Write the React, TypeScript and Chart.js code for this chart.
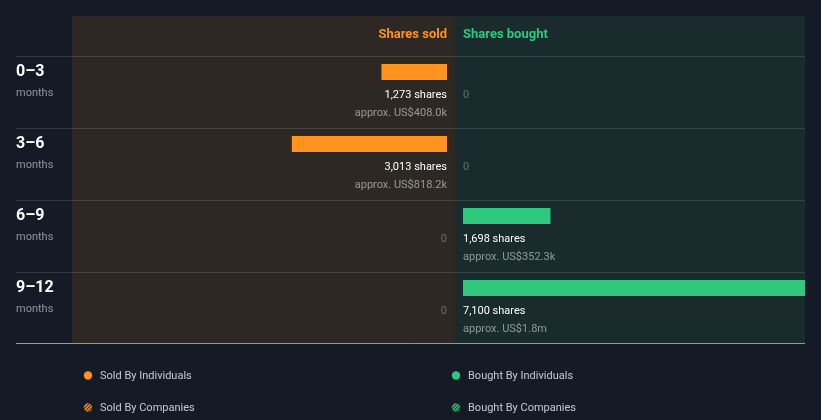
import React, { useEffect, useRef } from "react";
import { Chart, registerables } from "chart.js";

Chart.register(...registerables);

const periods = ["0–3", "3–6", "6–9", "9–12"];
const periodUnit = "months";
const soldShares = [1273, 3013, 0, 0];
const boughtShares = [0, 0, 1698, 7100];
const soldValue = ["US$408.0k", "US$818.2k", "", ""];
const boughtValue = ["", "", "US$352.3k", "US$1.8m"];
const headers = ["Shares sold", "Shares bought"];
const legendLabels = ["Sold By Individuals", "Sold By Companies", "Bought By Individuals", "Bought By Companies"];

const ORANGE = "#ff931d";
const GREEN = "#2ec97f";
const BG = "#151b26";
const SOLD_BG = "#2d2823";
const BOUGHT_BG = "#192b2d";
const FONT = "Roboto, 'Open Sans', sans-serif";

// px per share (shared by both sides)
const PX_PER_SHARE = 0.0515;
const SOLD_LEFT = 72, SOLD_RIGHT = 447, BOUGHT_LEFT = 463, BOUGHT_RIGHT = 805;
const ROWS_TOP = 36, ROWS_BOTTOM = 324;

function fmt(n: number) {
  return n.toLocaleString("en-US");
}

const layoutPlugin = {
  id: "customLayout",
  afterLayout(chart: any) {
    const sx = chart.scales.xSold, bx = chart.scales.xBought, y = chart.scales.y;
    sx.left = SOLD_LEFT; sx.right = SOLD_RIGHT; sx.width = SOLD_RIGHT - SOLD_LEFT; sx.configure();
    bx.left = BOUGHT_LEFT; bx.right = BOUGHT_RIGHT; bx.width = BOUGHT_RIGHT - BOUGHT_LEFT; bx.configure();
    y.top = ROWS_TOP; y.bottom = ROWS_BOTTOM; y.height = ROWS_BOTTOM - ROWS_TOP; y.configure();
  },
  beforeDatasetsDraw(chart: any) {
    const ctx = chart.ctx;
    const y = chart.scales.y;
    const band = (y.getPixelForValue(1) - y.getPixelForValue(0));
    const rowTop = (i: number) => y.getPixelForValue(i) - 16;
    const lastBottom = rowTop(periods.length - 1) + band - 1;
    const panelTop = rowTop(0) - 40;
    ctx.save();
    // panels
    ctx.fillStyle = SOLD_BG;
    ctx.fillRect(72, panelTop, 383, lastBottom - panelTop);
    ctx.fillStyle = BOUGHT_BG;
    ctx.fillRect(455, panelTop, 350, lastBottom - panelTop);
    // row separators
    ctx.strokeStyle = "rgba(255,255,255,0.12)";
    ctx.lineWidth = 1;
    for (let i = 0; i < periods.length; i++) {
      const yy = Math.round(rowTop(i)) + 0.5;
      ctx.beginPath();
      ctx.moveTo(16, yy);
      ctx.lineTo(805, yy);
      ctx.stroke();
    }
    ctx.strokeStyle = "rgba(255,255,255,0.55)";
    ctx.beginPath();
    ctx.moveTo(16, Math.round(lastBottom) + 0.5);
    ctx.lineTo(805, Math.round(lastBottom) + 0.5);
    ctx.stroke();
    // headers
    ctx.textBaseline = "middle";
    ctx.font = `bold 13px ${FONT}`;
    ctx.fillStyle = ORANGE;
    ctx.textAlign = "right";
    ctx.fillText(headers[0], SOLD_RIGHT, panelTop + 19);
    ctx.fillStyle = GREEN;
    ctx.textAlign = "left";
    ctx.fillText(headers[1], BOUGHT_LEFT, panelTop + 19);
    // row labels
    for (let i = 0; i < periods.length; i++) {
      const c = y.getPixelForValue(i);
      ctx.textAlign = "left";
      ctx.fillStyle = "#ffffff";
      ctx.font = `bold 16px ${FONT}`;
      ctx.fillText(periods[i], 16, c);
      ctx.fillStyle = "rgba(255,255,255,0.5)";
      ctx.font = `11px ${FONT}`;
      ctx.fillText(periodUnit, 16, c + 21);
    }
    ctx.restore();
  },
  afterDatasetsDraw(chart: any) {
    const ctx = chart.ctx;
    const y = chart.scales.y;
    ctx.save();
    ctx.textBaseline = "middle";
    for (let i = 0; i < periods.length; i++) {
      const c = y.getPixelForValue(i);
      // sold side
      ctx.textAlign = "right";
      if (soldShares[i] > 0) {
        ctx.font = `11px ${FONT}`;
        ctx.fillStyle = "#ffffff";
        ctx.fillText(`${fmt(soldShares[i])} shares`, SOLD_RIGHT, c + 23);
        ctx.fillStyle = "rgba(255,255,255,0.5)";
        ctx.fillText(`approx. ${soldValue[i]}`, SOLD_RIGHT, c + 41);
      } else {
        ctx.font = `11px ${FONT}`;
        ctx.fillStyle = "rgba(255,255,255,0.3)";
        ctx.fillText("0", SOLD_RIGHT, c + 23);
      }
      // bought side
      ctx.textAlign = "left";
      if (boughtShares[i] > 0) {
        ctx.font = `11px ${FONT}`;
        ctx.fillStyle = "#ffffff";
        ctx.fillText(`${fmt(boughtShares[i])} shares`, BOUGHT_LEFT, c + 23);
        ctx.fillStyle = "rgba(255,255,255,0.5)";
        ctx.fillText(`approx. ${boughtValue[i]}`, BOUGHT_LEFT, c + 41);
      } else {
        ctx.font = `11px ${FONT}`;
        ctx.fillStyle = "rgba(255,255,255,0.3)";
        ctx.fillText("0", BOUGHT_LEFT, c + 23);
      }
    }
    // legend
    const items = [
      { label: legendLabels[0], color: ORANGE, hatch: false, x: 88, y: 375.5 },
      { label: legendLabels[1], color: ORANGE, hatch: true, x: 88, y: 407.5 },
      { label: legendLabels[2], color: GREEN, hatch: false, x: 456, y: 375.5 },
      { label: legendLabels[3], color: GREEN, hatch: true, x: 456, y: 407.5 },
    ];
    for (const it of items) {
      ctx.save();
      ctx.beginPath();
      ctx.arc(it.x, it.y, 4.2, 0, Math.PI * 2);
      if (!it.hatch) {
        ctx.fillStyle = it.color;
        ctx.fill();
      } else {
        ctx.clip();
        ctx.fillStyle = "#2a2a2a";
        ctx.fillRect(it.x - 5, it.y - 5, 10, 10);
        ctx.strokeStyle = it.color;
        ctx.lineWidth = 1.5;
        for (let k = -8; k <= 8; k += 3.5) {
          ctx.beginPath();
          ctx.moveTo(it.x + k - 5, it.y + 5);
          ctx.lineTo(it.x + k + 5, it.y - 5);
          ctx.stroke();
        }
      }
      ctx.restore();
      ctx.font = `11px ${FONT}`;
      ctx.fillStyle = "rgba(255,255,255,0.75)";
      ctx.textAlign = "left";
      ctx.textBaseline = "middle";
      ctx.fillText(it.label, it.x + 12, it.y + 0.5);
    }
    ctx.restore();
  },
};

const bgPlugin = {
  id: "bg",
  beforeDraw(chart: any) {
    const ctx = chart.ctx;
    ctx.save();
    ctx.fillStyle = BG;
    ctx.fillRect(0, 0, chart.width, chart.height);
    ctx.restore();
  },
};

export default function App() {
  const ref = useRef<HTMLCanvasElement | null>(null);
  useEffect(() => {
    document.body.style.margin = "0";
    document.body.style.background = BG;
    if (!ref.current) return;
    const chart = new Chart(ref.current, {
      type: "bar",
      data: {
        labels: periods,
        datasets: [
          {
            label: "Shares sold",
            data: soldShares,
            xAxisID: "xSold",
            backgroundColor: ORANGE,
            barThickness: 16,
            borderWidth: 0,
            inflateAmount: 0,
            clip: 0,
            grouped: false,
          } as any,
          {
            label: "Shares bought",
            data: boughtShares,
            xAxisID: "xBought",
            backgroundColor: GREEN,
            barThickness: 16,
            borderWidth: 0,
            inflateAmount: 0,
            clip: 0,
            grouped: false,
          } as any,
        ],
      },
      options: {
        indexAxis: "y",
        responsive: false,
        animation: false,
        events: [],
        plugins: { legend: { display: false }, tooltip: { enabled: false } },
        scales: {
          y: { type: "category", display: false, offset: true },
          xSold: {
            type: "linear",
            display: false,
            reverse: true,
            min: 0,
            max: (SOLD_RIGHT - SOLD_LEFT) / PX_PER_SHARE,
          },
          xBought: {
            type: "linear",
            display: false,
            min: 0,
            max: (BOUGHT_RIGHT - BOUGHT_LEFT) / PX_PER_SHARE,
          },
        },
      } as any,
      plugins: [bgPlugin, layoutPlugin],
    });
    return () => chart.destroy();
  }, []);
  return (
    <div style={{ width: 821, height: 420, background: BG }}>
      <canvas ref={ref} width={821} height={420} style={{ display: "block" }} />
    </div>
  );
}
